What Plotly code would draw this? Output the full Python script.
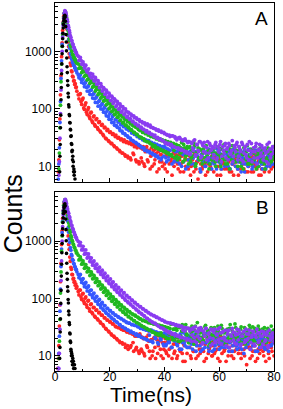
import plotly.graph_objects as go

# ---------------- time channels (ns) ----------------
T_EARLY = [1.0, 1.2, 1.4, 1.6, 1.8, 2.0, 2.2, 2.4, 2.6, 2.8, 3.0, 3.2, 3.4, 3.6, 3.8, 4.0, 4.2, 4.4,
           4.6, 4.8, 5.0, 5.2, 5.4, 5.6, 5.8, 6.0, 6.2, 6.4, 6.6, 6.8, 7.0, 7.2, 7.4, 7.6, 7.8, 8.0]
T_LATE = [8.5, 9.0, 9.5, 10.0, 10.5, 11.0, 11.5, 12.0, 12.5,
          13.0, 13.5, 14.0, 14.5, 15.0, 15.5, 16.0, 16.5, 17.0,
          17.5, 18.0, 18.5, 19.0, 19.5, 20.0, 20.5, 21.0, 21.5,
          22.0, 22.5, 23.0, 23.5, 24.0, 24.5, 25.0, 25.5, 26.0,
          26.5, 27.0, 27.5, 28.0, 28.5, 29.0, 29.5, 30.0, 30.5,
          31.0, 31.5, 32.0, 32.5, 33.0, 33.5, 34.0, 34.5, 35.0,
          35.5, 36.0, 36.5, 37.0, 37.5, 38.0, 38.5, 39.0, 39.5,
          40.0, 40.5, 41.0, 41.5, 42.0, 42.5, 43.0, 43.5, 44.0,
          44.5, 45.0, 45.5, 46.0, 46.5, 47.0, 47.5, 48.0, 48.5,
          49.0, 49.5, 50.0, 50.5, 51.0, 51.5, 52.0, 52.5, 53.0,
          53.5, 54.0, 54.5, 55.0, 55.5, 56.0, 56.5, 57.0, 57.5,
          58.0, 58.5, 59.0, 59.5, 60.0, 60.5, 61.0, 61.5, 62.0,
          62.5, 63.0, 63.5, 64.0, 64.5, 65.0, 65.5, 66.0, 66.5,
          67.0, 67.5, 68.0, 68.5, 69.0, 69.5, 70.0, 70.5, 71.0,
          71.5, 72.0, 72.5, 73.0, 73.5, 74.0, 74.5, 75.0, 75.5,
          76.0, 76.5, 77.0, 77.5, 78.0, 78.5, 79.0, 79.5, 80.0]
T_MID = [8.75, 9.25, 9.75, 10.25, 10.75, 11.25, 11.75, 12.25, 12.75,
         13.25, 13.75, 14.25, 14.75, 15.25, 15.75, 16.25, 16.75, 17.25,
         17.75, 18.25, 18.75, 19.25, 19.75, 20.25, 20.75, 21.25, 21.75,
         22.25, 22.75, 23.25, 23.75, 24.25, 24.75, 25.25, 25.75, 26.25,
         26.75, 27.25, 27.75, 28.25, 28.75, 29.25, 29.75, 30.25, 30.75,
         31.25, 31.75, 32.25, 32.75, 33.25, 33.75, 34.25, 34.75, 35.25,
         35.75, 36.25, 36.75, 37.25, 37.75, 38.25, 38.75, 39.25, 39.75,
         40.25, 40.75, 41.25, 41.75, 42.25, 42.75, 43.25, 43.75, 44.25,
         44.75, 45.25, 45.75, 46.25, 46.75, 47.25, 47.75, 48.25, 48.75,
         49.25, 49.75, 50.25, 50.75, 51.25, 51.75, 52.25, 52.75, 53.25,
         53.75, 54.25, 54.75, 55.25, 55.75, 56.25, 56.75, 57.25, 57.75,
         58.25, 58.75, 59.25, 59.75, 60.25, 60.75, 61.25, 61.75, 62.25,
         62.75, 63.25, 63.75, 64.25, 64.75, 65.25, 65.75, 66.25, 66.75,
         67.25, 67.75, 68.25, 68.75, 69.25, 69.75, 70.25, 70.75, 71.25,
         71.75, 72.25, 72.75, 73.25, 73.75, 74.25, 74.75, 75.25, 75.75,
         76.25, 76.75, 77.25, 77.75, 78.25, 78.75, 79.25, 79.75]
T_IRF = [1.5, 1.6, 1.7, 1.8, 1.9, 2.0, 2.1, 2.2, 2.3, 2.4,
         2.5, 2.6, 2.7, 2.8, 2.9, 3.0, 3.1, 3.2, 3.3, 3.4,
         3.5, 3.6, 3.7, 3.8, 3.9, 4.0, 4.1, 4.2, 4.3, 4.4,
         4.5, 4.6, 4.7, 4.8, 4.9, 5.0, 5.1, 5.2, 5.3, 5.4,
         5.5, 5.6, 5.7, 5.8, 5.9, 6.0, 6.1, 6.2, 6.3, 6.4,
         6.5, 6.6, 6.7, 6.8, 6.9, 7.0, 7.1, 7.2, 7.3, 7.4, 7.5]

# ---------------- panel A counts ----------------
IRF_A = [3, 5, 8, 15, 24, 47, 78, 145, 236, 410,
         610, 915, 1240, 1670, 2080, 2570, 2980, 3420, 3730, 4020,
         4190, 4310, 4010, 3380, 2720, 1980, 1470, 1030, 775, 545,
         430, 310, 258, 188, 162, 118, 108, 80, 76, 58,
         57, 44, 43, 33, 34, 25, 24, 18, 19, 13,
         15, 10, 12, 8, 9, 7, 8, 5, 6, 4, 5]

RED_A_EARLY = [5, 8, 13, 29, 67, 176, 380, 815, 1420, 2340,
               3250, 4150, 4580, 4780, 4720, 3950, 3260, 2460, 1930, 1470,
               1230, 920, 800, 630, 570, 462, 445, 372, 362, 308,
               312, 268, 275, 236, 241, 204]
RED_A_LATE = [176, 178, 135, 145, 104, 117, 88, 97, 74,
              85, 62, 73, 53, 65, 47, 58, 41, 52,
              36, 47, 31, 42, 28, 39, 25, 36, 23,
              33, 21, 31, 19, 29, 17, 27, 16, 26,
              15, 25, 14, 24, 17, 22, 13, 21, 12,
              23, 14, 20, 11, 18, 22, 12, 19, 15,
              10, 19, 13, 17, 21, 9, 16, 12, 18,
              11, 17, 8, 15, 19, 12, 14, 10, 16,
              18, 9, 13, 11, 16, 8, 14, 17, 10,
              13, 7, 15, 11, 17, 9, 12, 14, 8,
              16, 10, 12, 7, 14, 11, 18, 9, 13,
              8, 12, 15, 10, 13, 7, 16, 11, 9,
              14, 9, 12, 17, 8, 11, 13, 10, 15,
              7, 12, 10, 14, 9, 16, 11, 8, 13,
              12, 15, 8, 11, 10, 14, 7, 13, 9,
              11, 8, 14, 10, 12, 16, 9, 13, 10]
RED_A_MID = [150, 185, 120, 155, 98, 128, 80, 105, 68,
             88, 58, 76, 50, 68, 44, 60, 39, 54,
             34, 48, 30, 44, 27, 40, 25, 37, 22,
             35, 20, 32, 18, 30, 17, 29, 15, 27,
             14, 26, 13, 25, 16, 24, 12, 23, 11,
             21, 12, 22, 10, 20, 13, 19, 9, 21,
             17, 11, 20, 8, 18, 12, 16, 10, 19,
             9, 15, 18, 11, 13, 7, 17, 12, 14,
             11, 16, 8, 15, 12, 18, 10, 13, 9,
             15, 10, 13, 8, 16, 12, 6, 14, 11,
             9, 14, 11, 17, 8, 13, 10, 15, 12,
             14, 10, 7, 13, 16, 9, 12, 11, 17,
             10, 13, 8, 15, 11, 7, 14, 12, 9,
             15, 9, 13, 11, 17, 8, 12, 10, 14,
             8, 13, 10, 16, 9, 12, 15, 7, 11,
             13, 9, 12, 15, 8, 11, 14, 10]

BLUE_A_EARLY = [4, 6, 11, 21, 58, 135, 340, 690, 1330, 2060,
                3150, 3900, 4600, 4820, 4850, 4250, 3650, 2940, 2490, 1950,
                1630, 1290, 1140, 925, 870, 750, 725, 645, 635, 575,
                572, 520, 522, 472, 470, 428]
BLUE_A_LATE = [392, 381, 328, 326, 279, 281, 238, 242, 204,
               211, 176, 181, 151, 156, 129, 135, 113, 118,
               98, 104, 85, 92, 74, 82, 66, 73, 58,
               65, 51, 59, 46, 53, 41, 49, 37, 45,
               34, 42, 31, 38, 28, 36, 26, 33, 24,
               31, 22, 29, 21, 28, 19, 27, 18, 25,
               17, 24, 16, 23, 15, 22, 19, 14, 21,
               22, 14, 20, 13, 19, 16, 21, 12, 18,
               13, 19, 11, 17, 20, 12, 16, 18, 10,
               17, 12, 19, 14, 11, 18, 15, 20, 9,
               16, 12, 18, 10, 15, 19, 13, 11, 17,
               12, 17, 9, 15, 19, 11, 14, 16, 10,
               18, 11, 14, 9, 16, 13, 19, 10, 15,
               12, 17, 8, 14, 18, 11, 15, 10, 16,
               13, 9, 17, 12, 15, 19, 10, 14, 11,
               16, 12, 9, 18, 13, 10, 15, 11, 17]
BLUE_A_MID = [350, 395, 290, 340, 245, 300, 205, 255, 180,
              215, 155, 190, 130, 165, 112, 142, 100, 125,
              88, 112, 76, 98, 66, 87, 58, 78, 52,
              66, 48, 60, 42, 55, 38, 50, 35, 45,
              32, 43, 29, 40, 27, 37, 25, 34, 23,
              32, 21, 30, 19, 29, 18, 28, 17, 26,
              16, 25, 15, 24, 14, 23, 13, 22, 15,
              21, 12, 20, 15, 23, 11, 19, 14, 22,
              12, 18, 21, 10, 16, 19, 9, 17, 13,
              18, 11, 15, 21, 10, 16, 13, 19, 8,
              15, 19, 10, 17, 12, 20, 14, 9, 18,
              11, 16, 20, 12, 17, 9, 15, 19, 13,
              16, 10, 18, 14, 11, 20, 12, 17, 9,
              15, 19, 11, 16, 8, 18, 13, 20, 12,
              17, 10, 14, 19, 11, 16, 12, 18, 9,
              14, 19, 10, 15, 12, 18, 11, 16]

GREEN_A_EARLY = [3, 5, 9, 17, 47, 116, 298, 605, 1230, 1960,
                 3080, 3850, 4680, 4900, 4950, 4380, 3920, 3240, 2860, 2310,
                 2060, 1680, 1540, 1290, 1210, 1030, 1010, 890, 880, 790,
                 800, 720, 730, 665, 675, 625]
GREEN_A_LATE = [608, 521, 517, 445, 448, 382, 389, 331, 336,
                289, 294, 248, 253, 216, 221, 186, 191, 162,
                168, 139, 145, 121, 127, 104, 111, 92, 98,
                81, 90, 72, 79, 64, 73, 58, 66, 52,
                60, 47, 55, 43, 51, 39, 48, 36, 44,
                42, 32, 39, 30, 37, 27, 35, 26, 33,
                24, 32, 23, 30, 21, 29, 20, 28, 19,
                27, 18, 26, 17, 25, 16, 24, 19, 23,
                15, 22, 14, 21, 18, 24, 13, 20, 16,
                21, 12, 19, 15, 23, 11, 18, 14, 20,
                13, 17, 22, 12, 16, 19, 11, 18, 15,
                20, 12, 17, 14, 21, 10, 16, 19, 13,
                18, 11, 15, 20, 13, 17, 22, 12, 16,
                14, 19, 10, 16, 21, 13, 18, 11, 15,
                20, 12, 17, 14, 9, 18, 16, 21, 13,
                15, 11, 19, 13, 17, 20, 12, 16, 14]
GREEN_A_MID = [510, 590, 430, 505, 370, 440, 320, 375, 280,
               320, 240, 280, 205, 245, 178, 215, 155, 185,
               138, 160, 118, 140, 101, 122, 90, 108, 80,
               95, 72, 86, 63, 78, 57, 70, 52, 64,
               48, 59, 43, 53, 39, 50, 36, 46, 33,
               43, 31, 40, 28, 38, 27, 36, 25, 34,
               22, 33, 21, 31, 20, 30, 19, 29, 18,
               28, 17, 27, 16, 26, 15, 25, 14, 24,
               13, 23, 17, 26, 12, 21, 15, 22, 11,
               22, 14, 18, 25, 10, 17, 21, 13, 19,
               11, 20, 14, 23, 16, 9, 19, 13, 21,
               17, 10, 22, 15, 12, 20, 14, 24, 11,
               13, 21, 9, 17, 23, 12, 15, 19, 10,
               22, 12, 17, 9, 20, 14, 23, 11, 16,
               11, 19, 13, 22, 15, 10, 18, 12, 20,
               17, 9, 14, 21, 11, 18, 13, 22]

PURPLE_A_EARLY = [2, 4, 7, 12, 31, 83, 215, 470, 1010, 1790,
                  2850, 3760, 4650, 5150, 5020, 4680, 4190, 3650, 3340, 2870,
                  2640, 2350, 2130, 1890, 1770, 1580, 1530, 1370, 1330, 1200,
                  1180, 1080, 1060, 970, 955, 880]
PURPLE_A_LATE = [830, 712, 705, 598, 590, 548, 470, 478, 412,
                 418, 352, 366, 310, 322, 270, 281, 238, 247,
                 208, 222, 183, 196, 160, 171, 141, 158, 129,
                 141, 114, 124, 101, 112, 92, 101, 82, 91,
                 74, 85, 68, 77, 61, 71, 56, 66, 52,
                 61, 48, 57, 44, 53, 42, 51, 39, 48,
                 36, 46, 35, 43, 32, 41, 30, 39, 28,
                 37, 26, 35, 25, 33, 24, 34, 22, 31,
                 29, 21, 32, 20, 28, 19, 30, 18, 26,
                 27, 17, 25, 19, 29, 16, 24, 18, 27,
                 15, 23, 26, 17, 21, 14, 25, 19, 22,
                 16, 24, 13, 22, 20, 27, 15, 19, 23,
                 14, 21, 25, 16, 19, 12, 23, 18, 26,
                 15, 20, 13, 24, 17, 22, 14, 19, 27,
                 16, 12, 21, 18, 25, 14, 20, 15, 23,
                 13, 19, 17, 24, 11, 20, 16, 22, 18]
PURPLE_A_MID = [700, 790, 610, 660, 520, 580, 440, 500, 380,
                350, 405, 310, 355, 270, 310, 235, 275, 205,
                235, 180, 212, 160, 188, 140, 168, 125, 150,
                110, 135, 98, 122, 88, 110, 80, 100, 72,
                88, 66, 81, 60, 76, 55, 70, 51, 65,
                47, 60, 44, 57, 40, 55, 38, 52, 36,
                47, 33, 45, 31, 43, 29, 41, 28, 39,
                25, 36, 24, 35, 23, 34, 22, 33, 21,
                31, 20, 30, 19, 29, 18, 28, 17, 27,
                16, 26, 21, 28, 15, 24, 19, 27, 14,
                25, 18, 22, 13, 27, 17, 23, 20, 14,
                21, 26, 14, 18, 24, 12, 22, 17, 25,
                20, 13, 23, 17, 28, 15, 21, 24, 13,
                22, 18, 26, 12, 20, 16, 24, 13, 19,
                25, 18, 14, 22, 11, 19, 24, 17, 21,
                15, 21, 12, 18, 26, 14, 20, 17]

# ---------------- panel B counts ----------------
IRF_B = [3, 5, 9, 14, 26, 44, 82, 138, 245, 395,
         625, 905, 1260, 1640, 2110, 2540, 3010, 3380, 3790, 4050,
         4230, 4480, 4080, 3250, 2420, 1580, 1010, 610, 410, 275,
         215, 160, 134, 96, 83, 60, 52, 38, 35, 25,
         24, 18, 17, 13, 12, 10, 11, 8, 10, 7,
         9, 7, 8, 6, 7, 5, 7, 5, 6, 4, 5]

RED_B_EARLY = [6, 9, 15, 33, 77, 196, 410, 870, 1520, 2480,
               3400, 4300, 4700, 4980, 4800, 4050, 3050, 2340, 1610, 1230,
               875, 720, 525, 445, 348, 322, 262, 259, 218, 223,
               192, 196, 170, 178, 151, 160]
RED_B_LATE = [132, 139, 106, 119, 89, 101, 77, 90, 66,
              78, 57, 69, 49, 62, 44, 56, 39, 51,
              35, 46, 30, 42, 27, 39, 24, 36, 22,
              33, 20, 31, 18, 30, 17, 28, 16, 27,
              15, 26, 14, 25, 17, 23, 13, 22, 12,
              24, 13, 21, 11, 20, 15, 23, 12, 19,
              10, 20, 14, 22, 11, 18, 13, 21, 9,
              17, 12, 20, 10, 19, 14, 22, 11, 16,
              9, 18, 13, 21, 11, 16, 8, 19, 14,
              20, 10, 17, 12, 22, 9, 15, 18, 11,
              13, 19, 8, 16, 21, 11, 14, 17, 10,
              18, 12, 20, 9, 15, 22, 11, 16, 13,
              8, 17, 14, 19, 10, 21, 12, 15, 18,
              11, 16, 9, 20, 13, 18, 7, 15, 19,
              14, 10, 17, 12, 21, 9, 16, 13, 18,
              12, 19, 8, 15, 11, 17, 14, 20, 10]
RED_B_MID = [115, 140, 96, 122, 82, 106, 70, 92, 60,
             80, 54, 70, 47, 63, 42, 57, 37, 51,
             33, 46, 29, 42, 26, 39, 23, 36, 21,
             32, 19, 31, 17, 29, 16, 28, 14, 26,
             13, 25, 15, 24, 12, 22, 14, 23, 11,
             22, 12, 20, 10, 21, 14, 18, 9, 19,
             12, 21, 9, 19, 15, 22, 10, 17, 13,
             20, 11, 18, 13, 23, 9, 16, 12, 21,
             10, 17, 12, 20, 8, 15, 19, 11, 22,
             14, 9, 18, 12, 16, 20, 10, 13, 17,
             21, 12, 16, 9, 19, 13, 22, 10, 15,
             11, 17, 13, 21, 8, 14, 18, 12, 20,
             16, 10, 19, 12, 15, 9, 20, 13, 17,
             13, 20, 11, 16, 10, 18, 14, 21, 9,
             17, 12, 15, 8, 19, 13, 11, 18, 14,
             10, 16, 13, 19, 9, 15, 12, 17]

BLUE_B_EARLY = [4, 6, 11, 22, 60, 145, 360, 725, 1400, 2220,
                3340, 4150, 4850, 5000, 5000, 4250, 3550, 2760, 2240, 1710,
                1430, 1090, 950, 770, 695, 585, 552, 478, 462, 405,
                398, 355, 354, 318, 320, 291]
BLUE_B_LATE = [262, 254, 215, 213, 181, 182, 155, 157, 133,
               138, 114, 120, 99, 105, 87, 93, 76, 82,
               66, 75, 58, 67, 52, 61, 47, 56, 43,
               51, 39, 48, 35, 45, 32, 42, 30, 39,
               28, 37, 26, 35, 25, 34, 23, 33, 22,
               31, 21, 30, 20, 29, 19, 28, 23, 27,
               18, 27, 21, 26, 17, 25, 20, 24, 16,
               25, 15, 23, 18, 26, 14, 22, 19, 24,
               16, 22, 13, 21, 17, 25, 15, 20, 23,
               14, 19, 24, 16, 21, 12, 18, 22, 15,
               20, 13, 23, 17, 25, 14, 19, 21, 12,
               22, 15, 18, 24, 13, 20, 16, 26, 14,
               19, 23, 12, 17, 21, 15, 25, 18, 13,
               21, 14, 19, 24, 11, 17, 22, 16, 20,
               13, 18, 23, 15, 20, 12, 19, 24, 16,
               21, 14, 17, 25, 12, 19, 15, 22, 18]
BLUE_B_MID = [230, 262, 190, 222, 160, 190, 135, 165, 118,
              140, 103, 124, 90, 109, 79, 96, 69, 85,
              62, 75, 55, 67, 50, 61, 45, 56, 41,
              51, 38, 47, 35, 44, 32, 41, 30, 38,
              28, 37, 27, 35, 25, 34, 24, 32, 23,
              30, 21, 29, 20, 28, 19, 27, 18, 28,
              17, 26, 20, 25, 16, 24, 19, 23, 15,
              24, 16, 22, 17, 25, 14, 21, 18, 23,
              15, 21, 24, 13, 19, 17, 23, 14, 20,
              22, 16, 13, 20, 24, 15, 18, 21, 12,
              19, 23, 14, 17, 21, 12, 20, 16, 24,
              13, 19, 22, 16, 25, 14, 18, 21, 15,
              20, 14, 17, 23, 12, 19, 22, 15, 18,
              16, 22, 13, 18, 21, 14, 20, 17, 24,
              19, 15, 21, 12, 18, 23, 14, 20, 16,
              20, 13, 18, 22, 15, 19, 16, 21]

GREEN_B_EARLY = [3, 5, 9, 18, 43, 124, 290, 665, 1230, 2130,
                 3100, 4150, 4800, 5250, 5150, 4650, 3950, 3440, 2860, 2490,
                 2070, 1830, 1550, 1430, 1240, 1170, 1040, 995, 895, 865,
                 785, 770, 700, 690, 625, 620]
GREEN_B_LATE = [568, 486, 474, 406, 401, 347, 346, 298, 300,
                258, 264, 224, 229, 196, 201, 171, 177, 151,
                156, 132, 138, 117, 122, 101, 109, 91, 97,
                80, 89, 72, 79, 64, 72, 58, 66, 53,
                60, 48, 56, 44, 52, 41, 49, 38, 46,
                44, 34, 41, 32, 40, 30, 38, 28, 37,
                26, 36, 25, 35, 24, 34, 23, 33, 22,
                32, 21, 31, 20, 30, 36, 19, 29, 23,
                28, 18, 31, 22, 35, 19, 27, 24, 30,
                17, 26, 33, 20, 28, 22, 38, 18, 25,
                29, 19, 24, 34, 21, 27, 17, 31, 23,
                20, 28, 25, 33, 18, 24, 30, 21, 26,
                17, 29, 23, 35, 20, 26, 19, 31, 22,
                27, 18, 32, 21, 25, 16, 28, 24, 34,
                20, 26, 19, 30, 23, 17, 29, 22, 27,
                18, 31, 24, 20, 28, 23, 33, 19, 25]
GREEN_B_MID = [470, 530, 395, 450, 335, 390, 290, 335, 250,
               290, 220, 252, 190, 222, 167, 194, 146, 170,
               128, 151, 113, 134, 100, 119, 89, 106, 80,
               95, 71, 85, 64, 77, 58, 70, 53, 64,
               48, 59, 45, 54, 41, 51, 38, 47, 36,
               44, 33, 42, 31, 40, 29, 38, 28, 37,
               26, 36, 24, 35, 23, 34, 25, 33, 22,
               32, 20, 31, 24, 36, 21, 29, 19, 30,
               21, 33, 18, 27, 31, 20, 35, 23, 17,
               30, 22, 27, 16, 33, 25, 19, 29, 21,
               26, 18, 32, 22, 28, 15, 24, 30, 19,
               31, 22, 17, 27, 24, 34, 19, 25, 16,
               25, 20, 30, 18, 27, 23, 36, 21, 28,
               19, 29, 23, 17, 31, 22, 26, 18, 30,
               24, 32, 18, 27, 21, 33, 16, 25, 29,
               22, 27, 17, 30, 21, 26, 19, 28]

PURPLE_B_EARLY = [2, 3, 6, 11, 29, 78, 205, 450, 995, 1780,
                  2880, 3860, 4780, 5220, 5350, 4860, 4490, 3950, 3640, 3230,
                  3040, 2700, 2560, 2270, 2150, 1920, 1850, 1670, 1610, 1460,
                  1420, 1290, 1270, 1170, 1150, 1060]
PURPLE_B_LATE = [985, 862, 826, 718, 702, 611, 603, 528, 522,
                 492, 428, 431, 372, 381, 329, 337, 290, 298,
                 254, 266, 226, 237, 200, 212, 176, 190, 156,
                 169, 139, 152, 124, 136, 110, 124, 98, 111,
                 88, 103, 80, 93, 72, 84, 66, 78, 60,
                 71, 55, 66, 50, 61, 45, 57, 42, 53,
                 39, 50, 37, 47, 34, 45, 31, 42, 30,
                 40, 28, 38, 26, 37, 25, 36, 24, 34,
                 23, 33, 22, 32, 21, 31, 27, 20, 30,
                 19, 29, 23, 31, 18, 27, 22, 30, 20,
                 28, 17, 25, 30, 19, 24, 21, 29, 16,
                 26, 18, 23, 29, 17, 25, 20, 27, 19,
                 15, 24, 28, 18, 22, 26, 17, 23, 29,
                 19, 25, 16, 22, 27, 18, 24, 20, 28,
                 17, 23, 26, 15, 21, 25, 18, 22, 27,
                 16, 24, 19, 26, 14, 22, 20, 25, 18]
PURPLE_B_MID = [840, 950, 700, 810, 590, 700, 505, 600, 440,
                510, 380, 450, 335, 395, 295, 350, 262, 310,
                232, 275, 205, 245, 182, 218, 160, 195, 143,
                172, 128, 155, 115, 140, 104, 126, 93, 113,
                84, 103, 77, 93, 70, 85, 63, 77, 57,
                72, 53, 66, 49, 61, 45, 56, 41, 52,
                38, 50, 36, 47, 33, 44, 31, 42, 29,
                39, 27, 38, 25, 37, 24, 36, 23, 35,
                22, 34, 21, 33, 28, 20, 31, 19, 30,
                27, 18, 29, 21, 32, 17, 26, 20, 31,
                16, 27, 22, 30, 18, 25, 15, 28, 20,
                29, 17, 24, 19, 31, 16, 26, 21, 28,
                18, 27, 14, 23, 30, 19, 25, 16, 24,
                28, 15, 22, 26, 17, 29, 19, 24, 13,
                21, 27, 16, 23, 29, 17, 25, 14, 22,
                26, 18, 23, 15, 28, 19, 24, 21]

PANEL_LABELS = ["A", "B"]
X_TICKS = [0, 20, 40, 60, 80]
Y_TICKS = [10, 100, 1000]

COLORS = {"red": "#ff2626", "blue": "#3558ff", "green": "#20b820",
          "purple": "#8a3cf0", "black": "#000000"}

T_DECAY = T_EARLY + T_LATE + T_MID
panels = [
    ("x", "y", IRF_A, {"red": RED_A_EARLY + RED_A_LATE + RED_A_MID,
                       "blue": BLUE_A_EARLY + BLUE_A_LATE + BLUE_A_MID,
                       "green": GREEN_A_EARLY + GREEN_A_LATE + GREEN_A_MID,
                       "purple": PURPLE_A_EARLY + PURPLE_A_LATE + PURPLE_A_MID}),
    ("x2", "y2", IRF_B, {"red": RED_B_EARLY + RED_B_LATE + RED_B_MID,
                         "blue": BLUE_B_EARLY + BLUE_B_LATE + BLUE_B_MID,
                         "green": GREEN_B_EARLY + GREEN_B_LATE + GREEN_B_MID,
                         "purple": PURPLE_B_EARLY + PURPLE_B_LATE + PURPLE_B_MID}),
]

fig = go.Figure()
MS = 3.8
for xa, ya, irf, series in panels:
    assert len(irf) == len(T_IRF)
    for name in ["red", "blue", "green", "purple"]:
        vals = series[name]
        assert len(vals) == len(T_DECAY), (name, len(vals))
        fig.add_trace(go.Scatter(x=T_DECAY, y=vals, mode="markers", xaxis=xa, yaxis=ya,
                                 marker=dict(size=MS, color=COLORS[name], line=dict(width=0)),
                                 showlegend=False, hoverinfo="skip"))
    fig.add_trace(go.Scatter(x=T_IRF, y=irf, mode="markers", xaxis=xa, yaxis=ya,
                             marker=dict(size=3.6, color=COLORS["black"], line=dict(width=0)),
                             showlegend=False, hoverinfo="skip"))

minor_log = [2, 3, 4, 5, 6, 7, 8, 9, 20, 30, 40, 50, 60, 70, 80, 90,
             200, 300, 400, 500, 600, 700, 800, 900, 2000, 3000, 4000, 5000, 6000, 7000, 8000, 9000]

def xaxis_style(show_labels):
    return dict(range=[0, 80], tickvals=X_TICKS, ticktext=[str(v) for v in X_TICKS],
                showticklabels=show_labels, ticks="inside", ticklen=4, tickwidth=1, tickcolor="black",
                ticklabelstandoff=-5,
                minor=dict(tickvals=[10, 30, 50, 70], ticks="inside", ticklen=2.5, tickcolor="black"),
                showline=True, mirror=True, linecolor="black", linewidth=1,
                showgrid=False, zeroline=False)

def yaxis_style():
    return dict(type="log", range=[0.735, 3.847], tickvals=Y_TICKS, ticktext=[str(v) for v in Y_TICKS],
                ticks="inside", ticklen=4.5, tickwidth=1, tickcolor="black",
                minor=dict(tickvals=minor_log, ticks="inside", ticklen=2.5, tickcolor="black"),
                showline=True, mirror=True, linecolor="black", linewidth=1,
                showgrid=False, zeroline=False)

fig.update_layout(
    width=283, height=409,
    margin=dict(l=55, r=7, t=2, b=38),
    paper_bgcolor="white", plot_bgcolor="white",
    font=dict(family="Arial, Liberation Sans, sans-serif", size=12, color="black"),
    xaxis=dict(domain=[0, 1], anchor="y", **xaxis_style(False)),
    yaxis=dict(domain=[0.5149, 1], anchor="x", **yaxis_style()),
    xaxis2=dict(domain=[0, 1], anchor="y2", **xaxis_style(True)),
    yaxis2=dict(domain=[0, 0.4851], anchor="x2", **yaxis_style()),
    annotations=[
        dict(text=PANEL_LABELS[0], x=0.941, y=0.9566, xref="paper", yref="paper",
             showarrow=False, font=dict(size=19), xanchor="center", yanchor="middle"),
        dict(text=PANEL_LABELS[1], x=0.946, y=0.4444, xref="paper", yref="paper",
             showarrow=False, font=dict(size=19), xanchor="center", yanchor="middle"),
        dict(text="Counts", x=-0.1878, y=0.428, xref="paper", yref="paper", textangle=-90,
             showarrow=False, font=dict(size=25), xanchor="center", yanchor="middle"),
        dict(text="Time(ns)", x=0.439, y=-0.0650, xref="paper", yref="paper",
             showarrow=False, font=dict(size=21), xanchor="center", yanchor="middle"),
    ],
)

fig.write_html("out.html", config={"displayModeBar": False},
               post_script="document.body.style.margin='0';document.body.style.overflow='hidden';")
